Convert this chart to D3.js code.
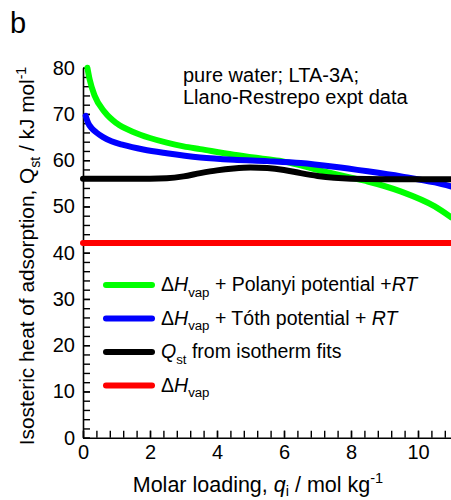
<!DOCTYPE html>
<html>
<head>
<meta charset="utf-8">
<script src="https://cdn.jsdelivr.net/npm/d3@7"></script>
<style>
  body { margin: 0; background: #fff; }
  svg { display: block; font-family: "Liberation Sans", Arial, sans-serif; }
</style>
</head>
<body>
<div id="chart"></div>
<script>
// values (loading in mol/kg, heat in kJ/mol)
const polanyiLoading = [0.13, 0.2, 0.35, 0.65, 1.0, 1.5, 2.0, 2.5, 3.0, 3.5, 4.5, 5.5, 6.0, 7.0, 8.0, 8.5, 9.5, 10.5, 11.0];
const polanyiHeat    = [80.0, 77.4, 73.9, 70.4, 68.0, 66.1, 64.8, 63.8, 63.0, 62.4, 61.2, 60.2, 59.7, 57.9, 56.2, 55.4, 53.2, 50.0, 47.6];

const tothLoading = [0.08, 0.15, 0.25, 0.4, 0.6, 0.85, 1.2, 1.8, 2.5, 3.5, 4.5, 5.5, 6.5, 7.5, 8.5, 9.5, 10.5, 11.0];
const tothHeat    = [69.6, 68.1, 67.0, 66.0, 65.0, 64.1, 63.3, 62.3, 61.5, 60.6, 60.1, 59.8, 59.4, 58.6, 57.6, 56.5, 55.2, 54.3];

const fitLoading = [0, 1, 2, 2.5, 3, 3.5, 4, 4.5, 5, 5.5, 6, 6.5, 7, 7.5, 8, 9, 10, 11];
const fitHeat    = [56.0, 56.0, 56.0, 56.1, 56.5, 57.2, 57.8, 58.2, 58.4, 58.3, 57.9, 57.2, 56.6, 56.2, 56.0, 55.9, 55.9, 55.9];

const vapLoading = [0, 11];
const vapHeat    = [42.1, 42.1];

const xTicks = [0, 2, 4, 6, 8, 10];
const yTicks = [0, 10, 20, 30, 40, 50, 60, 70, 80];

const width = 451, height = 500;

const svg = d3.select("#chart").append("svg")
    .attr("width", width)
    .attr("height", height);

const x = d3.scaleLinear().domain([0, 11]).range([83, 451.5]);
const y = d3.scaleLinear().domain([0, 80]).range([437.7, 67.7]);

// axes, ticks pointing inwards
const xMinor = d3.range(0, 11.01, 0.4).map(v => +v.toFixed(1));
const yMinor = d3.range(0, 81, 2);

svg.append("g")
    .attr("transform", "translate(0," + y(0) + ")")
    .call(d3.axisBottom(x).tickValues(xMinor).tickSize(-7).tickSizeOuter(0).tickFormat(""))
    .call(g => g.select(".domain").remove());

svg.append("g")
    .attr("transform", "translate(" + x(0) + ",0)")
    .call(d3.axisLeft(y).tickValues(yMinor).tickSize(-7).tickSizeOuter(0).tickFormat(""))
    .call(g => g.select(".domain").remove());

svg.append("g")
    .attr("transform", "translate(0," + y(0) + ")")
    .call(d3.axisBottom(x).tickValues(xTicks).tickSize(-7).tickSizeOuter(0).tickPadding(7));

svg.append("g")
    .attr("transform", "translate(" + x(0) + ",0)")
    .call(d3.axisLeft(y).tickValues(yTicks).tickSize(-7).tickSizeOuter(0).tickPadding(8));

svg.selectAll(".tick line").attr("stroke", "#000").attr("stroke-width", 1.4);
svg.selectAll(".domain").attr("stroke", "#000").attr("stroke-width", 1.6);
svg.selectAll(".tick text")
    .attr("fill", "#000")
    .style("font-size", "20px")
    .style("font-family", "'Liberation Sans', Arial, sans-serif");

// curves
const line = d3.line()
    .x(d => x(d[0]))
    .y(d => y(d[1]))
    .curve(d3.curveMonotoneX);

const series = [
    {xs: vapLoading, ys: vapHeat, color: "#ff0000"},
    {xs: polanyiLoading, ys: polanyiHeat, color: "#00ff00"},
    {xs: tothLoading, ys: tothHeat, color: "#0000ff"},
    {xs: fitLoading, ys: fitHeat, color: "#000000"}
];

series.forEach(function (s) {
    svg.append("path")
        .datum(d3.zip(s.xs, s.ys))
        .attr("fill", "none")
        .attr("stroke", s.color)
        .attr("stroke-width", 6)
        .attr("stroke-linecap", "round")
        .attr("stroke-linejoin", "round")
        .attr("d", line);
});

// legend
const legendItems = [
    {color: "#00ff00", parts: [["Δ"], ["H", "i"], ["vap", "sub"], [" + Polanyi potential +"], ["RT", "i"]]},
    {color: "#0000ff", parts: [["Δ"], ["H", "i"], ["vap", "sub"], [" + Tóth potential + "], ["RT", "i"]]},
    {color: "#000000", parts: [["Q", "i"], ["st", "sub"], [" from isotherm fits"]]},
    {color: "#ff0000", parts: [["Δ"], ["H", "i"], ["vap", "sub"]]}
];

function richText(sel, parts, size, subShift) {
    const down = subShift === undefined ? 0.3 : subShift;
    let lastDy = 0;
    parts.forEach(function (p) {
        const t = sel.append("tspan").text(p[0]);
        if (p[1] === "i") t.style("font-style", "italic");
        if (p[1] === "sub" || p[1] === "sup") {
            const dy = p[1] === "sub" ? size * down : -size * 0.4;
            t.attr("dy", dy).style("font-size", (size * 0.68) + "px");
            lastDy = dy;
        } else if (lastDy !== 0) {
            // back to the baseline
            t.attr("dy", -lastDy);
            lastDy = 0;
        }
    });
}

const legend = svg.append("g");
legendItems.forEach(function (item, i) {
    const ly = 285 + i * 33.5;
    legend.append("line")
        .attr("x1", 106).attr("x2", 152)
        .attr("y1", ly).attr("y2", ly)
        .attr("stroke", item.color)
        .attr("stroke-width", 6)
        .attr("stroke-linecap", "round");
    const t = legend.append("text")
        .attr("x", 161)
        .attr("y", ly + 6)
        .style("font-size", "19.5px");
    richText(t, item.parts, 19.5);
});

// annotation
const note = svg.append("text").style("font-size", "20px");
note.append("tspan").attr("x", 183).attr("y", 82).text("pure water; LTA-3A;");
note.append("tspan").attr("x", 183).attr("y", 104).text("Llano-Restrepo expt data");

// axis titles
const xt = svg.append("text")
    .attr("x", 258).attr("y", 492)
    .attr("text-anchor", "middle")
    .style("font-size", "21.5px");
richText(xt, [["Molar loading, "], ["q", "i"], ["i", "sub"], [" / mol kg"], ["-1", "sup"]], 21.5, 0.2);

const yt = svg.append("text")
    .attr("transform", "translate(34,256) rotate(-90)")
    .attr("text-anchor", "middle")
    .style("font-size", "20.8px");
richText(yt, [["Isosteric heat of adsorption, Q"], ["st", "sub"], [" / kJ mol"], ["-1", "sup"]], 20.8);

svg.append("text")
    .attr("x", 10).attr("y", 33)
    .style("font-size", "29px")
    .text("b");
</script>
</body>
</html>
